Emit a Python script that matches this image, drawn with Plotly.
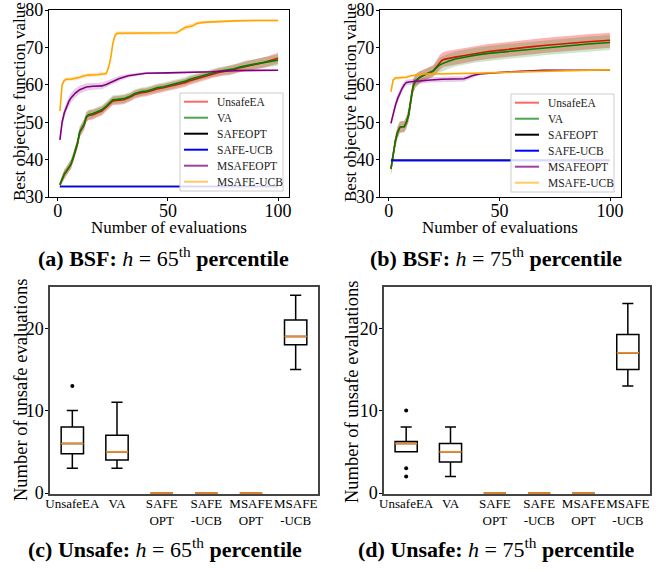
import plotly.graph_objects as go

W, H = 668, 571
SERIF = "Liberation Serif"

# ---------------- best-so-far curves, h = 65th percentile ----------------
a_x_ea = [1, 2, 3, 4, 5, 6, 7, 8, 9, 10, 11, 12, 13, 14, 16, 18, 20, 22, 24, 25, 27, 30, 33, 35, 38, 40, 43, 45,
          48, 50, 53, 55, 58, 60, 63, 65, 68, 70, 73, 75, 78, 80, 83, 85, 88, 90, 93, 95, 98, 100]
a_unsafeea = [33.2, 34.9, 36.1, 36.9, 37.9, 38.7, 40.3, 42.3, 44.3, 47.3, 48.3, 49.3, 51.3, 51.8, 52.0, 52.5, 53.0,
              54.0, 55.2, 55.7, 55.8, 56.0, 56.7, 57.4, 57.9, 58.0, 58.5, 58.9, 59.2, 59.5, 59.8, 60.2, 60.6, 61.1,
              61.6, 62.0, 62.5, 62.9, 63.3, 63.5, 63.8, 64.1, 64.6, 64.9, 65.3, 65.5, 65.9, 66.2, 66.7, 67.1]
a_va = [33.3, 35.0, 36.2, 37.0, 38.0, 38.8, 40.5, 42.5, 44.5, 47.5, 48.5, 49.5, 51.5, 52.0, 52.3, 52.8, 53.3,
        54.3, 55.5, 56.0, 56.1, 56.3, 57.0, 57.7, 58.2, 58.3, 58.8, 59.2, 59.5, 59.8, 60.2, 60.6, 61.0, 61.5,
        62.0, 62.4, 62.9, 63.2, 63.6, 63.8, 64.0, 64.3, 64.8, 65.1, 65.4, 65.6, 65.9, 66.1, 66.4, 66.6]
a_unsafeea_sd = [0.9, 1.1, 1.2, 1.2, 1.3, 1.3, 1.3, 1.3, 1.4, 1.4, 1.4, 1.4, 1.3, 1.3, 1.3, 1.2, 1.2, 1.2, 1.2,
                 1.2, 1.2, 1.2, 1.1, 1.1, 1.1, 1.1, 1.1, 1.1, 1.1, 1.1, 1.1, 1.1, 1.1, 1.1, 1.1, 1.1, 1.1, 1.1,
                 1.1, 1.1, 1.2, 1.2, 1.2, 1.3, 1.3, 1.3, 1.4, 1.4, 1.5, 1.5]
a_va_sd = [0.9, 1.1, 1.2, 1.2, 1.3, 1.3, 1.3, 1.3, 1.4, 1.4, 1.4, 1.4, 1.3, 1.3, 1.3, 1.2, 1.2, 1.2, 1.2,
           1.2, 1.2, 1.2, 1.1, 1.1, 1.1, 1.1, 1.1, 1.1, 1.1, 1.1, 1.1, 1.1, 1.1, 1.1, 1.1, 1.1, 1.1, 1.1,
           1.1, 1.1, 1.2, 1.2, 1.2, 1.3, 1.3, 1.3, 1.4, 1.4, 1.5, 1.5]
a_x_safe = [1, 100]
a_safeopt = [32.8, 32.8]
a_safeucb = [32.8, 32.8]
a_safe_sd = [0.0, 0.0]
a_x_msafeopt = [1, 2, 3, 4, 5, 6, 8, 10, 13, 16, 20, 22, 25, 28, 32, 36, 40, 50, 60, 70, 80, 90, 100]
a_msafeopt = [45.3, 50.0, 52.5, 54.3, 55.5, 56.5, 57.8, 58.7, 59.4, 59.6, 59.7, 60.1, 60.9, 61.7, 62.4, 62.8,
              63.1, 63.2, 63.3, 63.5, 63.8, 63.9, 63.9]
a_msafeopt_sd = [0.8, 1.2, 1.3, 1.3, 1.3, 1.3, 1.2, 1.1, 1.0, 0.9, 0.9, 0.9, 0.8, 0.7, 0.5, 0.4, 0.3, 0.2, 0.2,
                 0.2, 0.2, 0.2, 0.2]
a_x_msafeucb = [1, 2, 3, 4, 6, 8, 10, 12, 14, 18, 22, 23, 24, 25, 26, 27, 35, 45, 54, 56, 58, 61, 63, 66, 72,
                80, 90, 100]
a_msafeucb = [53.0, 60.0, 61.2, 61.5, 61.5, 61.7, 62.0, 62.4, 62.6, 62.7, 63.0, 64.5, 67.0, 71.0, 73.2, 73.8,
              73.8, 73.8, 73.9, 74.7, 75.4, 75.7, 76.4, 76.7, 76.9, 77.1, 77.2, 77.2]
a_msafeucb_sd = [0.6, 0.6, 0.5, 0.5, 0.5, 0.5, 0.5, 0.5, 0.5, 0.5, 0.5, 0.6, 0.7, 0.7, 0.6, 0.5, 0.4, 0.4, 0.4,
                 0.5, 0.6, 0.6, 0.5, 0.4, 0.3, 0.3, 0.3, 0.3]

# ---------------- best-so-far curves, h = 75th percentile ----------------
b_x_ea = [1, 2, 3, 4, 5, 6, 7, 8, 9, 10, 11, 12, 13, 14, 16, 18, 20, 21, 22, 23, 24, 25, 27, 30, 35, 40, 45, 50,
          55, 60, 65, 70, 75, 80, 85, 90, 95, 100]
b_unsafeea = [37.5, 41.5, 45.0, 47.3, 48.6, 48.8, 48.8, 50.0, 52.0, 56.0, 59.5, 61.0, 61.6, 62.0, 62.6, 63.2,
              63.7, 64.4, 65.2, 66.0, 66.5, 66.8, 67.1, 67.4, 67.9, 68.5, 68.9, 69.2, 69.6, 69.9, 70.2, 70.5,
              70.8, 71.1, 71.3, 71.5, 71.7, 71.9]
b_va = [37.5, 41.5, 45.0, 47.3, 48.6, 48.8, 48.8, 50.0, 52.0, 56.0, 59.5, 61.0, 61.6, 62.0, 62.6, 63.2, 63.6,
        64.2, 64.8, 65.3, 65.6, 65.9, 66.3, 66.9, 67.5, 68.0, 68.4, 68.7, 69.0, 69.2, 69.6, 69.9, 70.2, 70.5,
        70.7, 70.9, 71.1, 71.3]
b_unsafeea_sd = [1.6, 1.6, 1.6, 1.6, 1.5, 1.5, 1.5, 1.6, 1.8, 1.9, 1.9, 1.8, 1.7, 1.6, 1.5, 1.5, 1.5, 1.6, 1.8,
                 2.0, 2.0, 2.0, 2.0, 2.0, 2.0, 2.0, 2.0, 2.0, 2.0, 2.0, 2.0, 2.0, 2.0, 2.0, 2.0, 2.0, 2.0, 2.0]
b_va_sd = [1.6, 1.6, 1.6, 1.6, 1.5, 1.5, 1.5, 1.6, 1.8, 1.9, 1.9, 1.8, 1.7, 1.6, 1.5, 1.5, 1.5, 1.6, 1.8,
           2.0, 2.0, 2.0, 2.0, 2.0, 2.0, 2.0, 2.0, 2.0, 2.0, 2.0, 2.0, 2.0, 2.0, 2.0, 2.0, 2.0, 2.0, 2.0]
b_x_safe = [1, 100]
b_safeopt = [39.8, 39.8]
b_safeucb = [39.8, 39.8]
b_safe_sd = [0.0, 0.0]
b_x_msafeopt = [1, 2, 3, 4, 5, 6, 7, 8, 10, 13, 16, 19, 24, 28, 34, 36, 38, 41, 45, 50, 60, 70, 80, 90, 100]
b_msafeopt = [49.7, 52.5, 54.5, 56.3, 57.8, 59.0, 60.0, 60.6, 60.8, 60.9, 61.1, 61.3, 61.5, 61.5, 61.6, 62.0,
              62.5, 62.9, 63.1, 63.3, 63.6, 63.9, 63.9, 63.9, 63.9]
b_msafeopt_sd = [0.8, 1.0, 1.1, 1.1, 1.1, 1.0, 0.9, 0.8, 0.7, 0.7, 0.7, 0.7, 0.7, 0.7, 0.7, 0.6, 0.5, 0.3, 0.3,
                 0.2, 0.2, 0.2, 0.2, 0.2, 0.2]
b_x_msafeucb = [1, 2, 3, 5, 8, 10, 13, 16, 20, 30, 40, 50, 60, 70, 80, 90, 100]
b_msafeucb = [58.2, 61.3, 61.8, 61.8, 62.0, 62.4, 62.7, 62.9, 62.9, 62.9, 63.1, 63.3, 63.5, 63.7, 63.8, 63.9, 64.0]
b_msafeucb_sd = [0.8, 0.5, 0.4, 0.4, 0.4, 0.3, 0.3, 0.3, 0.3, 0.3, 0.3, 0.3, 0.3, 0.3, 0.3, 0.3, 0.3]

# ---------------- unsafe evaluation counts (box statistics) ----------------
methods = ["UnsafeEA", "VA", "SAFE<br>OPT", "SAFE<br>-UCB", "MSAFE<br>OPT", "MSAFE<br>-UCB"]
c_low = [3, 3, 0, 0, 0, 15]
c_q1 = [4.75, 4, 0, 0, 0, 18]
c_med = [6, 5, 0, 0, 0, 19]
c_q3 = [8, 7, 0, 0, 0, 21]
c_high = [10, 11, 0, 0, 0, 24]
c_outliers = {"UnsafeEA": [13]}

d_low = [5, 2, 0, 0, 0, 13]
d_q1 = [5, 3.75, 0, 0, 0, 15]
d_med = [6, 5, 0, 0, 0, 17]
d_q3 = [6.25, 6, 0, 0, 0, 19.25]
d_high = [8, 8, 0, 0, 0, 23]
d_outliers = {"UnsafeEA": [10, 3, 2]}

# ---------------- styling ----------------
names = ["UnsafeEA", "VA", "SAFEOPT", "SAFE-UCB", "MSAFEOPT", "MSAFE-UCB"]
line_colors = ["rgb(255,0,0)", "rgb(0,128,0)", "rgb(0,0,0)", "rgb(0,0,255)", "rgb(128,0,128)", "rgb(255,165,0)"]
key_colors = ["rgba(255,0,0,0.6)", "rgba(0,128,0,0.7)", "rgb(0,0,0)", "rgb(0,0,255)", "rgba(128,0,128,0.75)",
              "rgba(255,165,0,0.6)"]
band_colors = ["rgba(255,0,0,0.30)", "rgba(0,128,0,0.20)", "rgba(0,0,0,0.2)", "rgba(0,0,255,0.2)",
               "rgba(128,0,128,0.20)", "rgba(255,165,0,0.25)"]


def px_x(p):
    return p / W


def px_y(p):
    return 1 - p / H


fig = go.Figure()

panels_top = [
    ("x", "y", [
        (a_x_ea, a_unsafeea, a_unsafeea_sd), (a_x_ea, a_va, a_va_sd), (a_x_safe, a_safeopt, a_safe_sd),
        (a_x_safe, a_safeucb, a_safe_sd), (a_x_msafeopt, a_msafeopt, a_msafeopt_sd),
        (a_x_msafeucb, a_msafeucb, a_msafeucb_sd)]),
    ("x2", "y2", [
        (b_x_ea, b_unsafeea, b_unsafeea_sd), (b_x_ea, b_va, b_va_sd), (b_x_safe, b_safeopt, b_safe_sd),
        (b_x_safe, b_safeucb, b_safe_sd), (b_x_msafeopt, b_msafeopt, b_msafeopt_sd),
        (b_x_msafeucb, b_msafeucb, b_msafeucb_sd)]),
]

for xa, ya, series in panels_top:
    for i, (xs, ys, sd) in enumerate(series):
        upper = [m + s for m, s in zip(ys, sd)]
        lower = [m - s for m, s in zip(ys, sd)]
        if max(sd) > 0:
            fig.add_trace(go.Scatter(
                x=list(xs) + list(xs)[::-1], y=upper + lower[::-1], fill="toself",
                fillcolor=band_colors[i], line=dict(width=0), mode="lines", hoverinfo="skip",
                showlegend=False, xaxis=xa, yaxis=ya))
        fig.add_trace(go.Scatter(
            x=xs, y=ys, mode="lines", name=names[i], line=dict(color=line_colors[i], width=1.6),
            xaxis=xa, yaxis=ya, showlegend=False))

panels_bottom = [
    ("x3", "y3", c_low, c_q1, c_med, c_q3, c_high, c_outliers),
    ("x4", "y4", d_low, d_q1, d_med, d_q3, d_high, d_outliers),
]
BOX_W = 0.5
for xa, ya, lo, q1, med, q3, hi, outl in panels_bottom:
    for k, m in enumerate(methods):
        pos = k + 1
        fig.add_trace(go.Box(
            x=[pos], q1=[q1[k]], median=[med[k]], q3=[q3[k]], lowerfence=[lo[k]], upperfence=[hi[k]],
            boxpoints=False, fillcolor="rgba(0,0,0,0)", line=dict(color="black", width=1.5),
            width=BOX_W, whiskerwidth=0.5, showlegend=False, xaxis=xa, yaxis=ya, hoverinfo="skip"))
        fig.add_trace(go.Scatter(
            x=[pos - BOX_W / 2, pos + BOX_W / 2], y=[med[k], med[k]], mode="lines",
            line=dict(color="rgb(230,140,50)", width=1.8), showlegend=False, xaxis=xa, yaxis=ya))
        if m in outl:
            fig.add_trace(go.Scatter(
                x=[pos] * len(outl[m]), y=outl[m], mode="markers",
                marker=dict(color="black", size=4), showlegend=False, xaxis=xa, yaxis=ya))

axis_common = dict(showline=True, linecolor="black", linewidth=1.3, mirror=True, ticks="outside",
                   ticklen=3, tickcolor="black", showgrid=False, zeroline=False, automargin=False,
                   tickfont=dict(family=SERIF, size=18, color="black"))
bottom_axis = {**axis_common, "linecolor": "#444", "linewidth": 1.5, "layer": "below traces"}
bottom_xaxis = {**bottom_axis, "ticks": "", "tickfont": dict(family=SERIF, size=13, color="black")}

fig.update_layout(
    width=W, height=H, margin=dict(l=0, r=0, t=0, b=0),
    paper_bgcolor="white", plot_bgcolor="white",
    font=dict(family=SERIF, color="black"),
    xaxis=dict(domain=[px_x(49), px_x(289)], range=[-3.95, 104.95], tickvals=[0, 50, 100],
               ticklabelstandoff=-6, anchor="y", **axis_common),
    yaxis=dict(domain=[px_y(197), px_y(10)], range=[30, 80], tickvals=[30, 40, 50, 60, 70, 80],
               ticklabelstandoff=-2, anchor="x", **axis_common),
    xaxis2=dict(domain=[px_x(380), px_x(621)], range=[-3.95, 104.95], tickvals=[0, 50, 100],
                ticklabelstandoff=-6, anchor="y2", **axis_common),
    yaxis2=dict(domain=[px_y(197), px_y(10)], range=[30, 80], tickvals=[30, 40, 50, 60, 70, 80],
                ticklabelstandoff=-2, anchor="x2", **axis_common),
    xaxis3=dict(domain=[px_x(50), px_x(318)], range=[0.5, 6.5], tickvals=list(range(1, 7)), ticktext=methods,
                tickangle=0, ticklabelstandoff=-3, anchor="y3", **bottom_xaxis),
    yaxis3=dict(domain=[px_y(494), px_y(287)], range=[-0.12, 25], tickvals=[0, 10, 20], ticklabelstandoff=-2,
                anchor="x3", **bottom_axis),
    xaxis4=dict(domain=[px_x(384), px_x(650)], range=[0.5, 6.5], tickvals=list(range(1, 7)), ticktext=methods,
                tickangle=0, ticklabelstandoff=-3, anchor="y4", **bottom_xaxis),
    yaxis4=dict(domain=[px_y(494), px_y(287)], range=[-0.12, 25], tickvals=[0, 10, 20], ticklabelstandoff=-2,
                anchor="x4", **bottom_axis),
    showlegend=False,
)

# axis titles placed as text at fixed pixel positions
axis_titles = [
    (20, 102, "Best objective function value", -90, 17),
    (351, 102, "Best objective function value", -90, 17),
    (169, 228, "Number of evaluations", 0, 17),
    (500, 228, "Number of evaluations", 0, 17),
    (21, 390, "Number of unsafe evaluations", -90, 18.5),
    (352, 392, "Number of unsafe evaluations", -90, 18.5),
]
for tx, ty, txt, ang, sz in axis_titles:
    fig.add_annotation(x=px_x(tx), y=px_y(ty), xref="paper", yref="paper", text=txt, showarrow=False,
                       textangle=ang, xanchor="center", yanchor="middle",
                       font=dict(family=SERIF, size=sz, color="black"))

# legend boxes for the two top panels (frame, key lines and labels in pixel layout)
legend_boxes = [(180, 93), (511, 94)]
for lx, ly in legend_boxes:
    fig.add_shape(type="rect", xref="paper", yref="paper", x0=px_x(lx), x1=px_x(lx + 103),
                  y0=px_y(ly + 98), y1=px_y(ly), line=dict(color="#cccccc", width=1),
                  fillcolor="rgba(255,255,255,0.85)", layer="above")
    for r, nm in enumerate(names):
        ry = ly + 8.7 + r * 16.0
        fig.add_shape(type="line", xref="paper", yref="paper", x0=px_x(lx + 4), x1=px_x(lx + 28),
                      y0=px_y(ry), y1=px_y(ry), line=dict(color=key_colors[r], width=2), layer="above")
        fig.add_annotation(x=px_x(lx + 35), y=px_y(ry), xref="paper", yref="paper", text=nm, showarrow=False,
                           xanchor="left", yanchor="middle",
                           font=dict(family=SERIF, size=11.5, color="#222"))

captions = [
    (163, 257, "<b>(a) BSF:</b> <i>h</i> = 65<sup>th</sup> <b>percentile</b>"),
    (496, 257, "<b>(b) BSF:</b> <i>h</i> = 75<sup>th</sup> <b>percentile</b>"),
    (165, 548, "<b>(c) Unsafe:</b> <i>h</i> = 65<sup>th</sup> <b>percentile</b>"),
    (497, 548, "<b>(d) Unsafe:</b> <i>h</i> = 75<sup>th</sup> <b>percentile</b>"),
]
for cx, cy, txt in captions:
    fig.add_annotation(x=px_x(cx), y=px_y(cy), xref="paper", yref="paper", text=txt, showarrow=False,
                       xanchor="center", yanchor="middle", font=dict(family=SERIF, size=22, color="black"))

fig.write_html("out.html")
